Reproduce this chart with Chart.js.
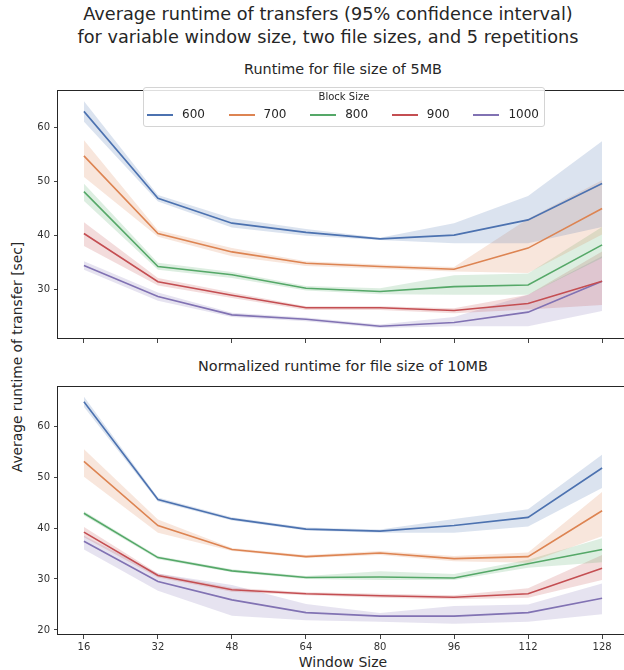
<!DOCTYPE html>
<html>
<head>
<meta charset="utf-8">
<script src="https://cdn.jsdelivr.net/npm/chart.js@4.4.0/dist/chart.umd.min.js"></script>
<style>
  html, body { margin: 0; padding: 0; background: #fff; }
  body { width: 624px; height: 670px; overflow: hidden; position: relative; font-family: "DejaVu Sans", sans-serif; color: #262626; }
  .t { position: absolute; white-space: nowrap; }
  canvas { position: absolute; left: 0; }
  #legend { position: absolute; left: 143px; top: 87px; width: 400px; height: 38px; border: 1px solid #d4d4d4; border-radius: 3px; background: rgba(255,255,255,0.85); }
  #legend .ttl { position: absolute; left: 0; width: 100%; top: 3px; text-align: center; font-size: 10px; }
  .li { position: absolute; top: 19px; height: 14px; }
  .li .sw { position: absolute; left: 0; top: 7px; width: 26px; height: 2px; }
  .li .lb { position: absolute; left: 35px; top: 0; font-size: 12px; line-height: 14px; }
</style>
</head>
<body>
<div class="t" style="left:0;width:656px;top:3px;text-align:center;font-size:17.7px;line-height:23px;">Average runtime of transfers (95% confidence interval)<br>for variable window size, two file sizes, and 5 repetitions</div>
<div class="t" style="left:58px;width:570px;top:61px;text-align:center;font-size:14.4px;line-height:17px;">Runtime for file size of 5MB</div>
<div class="t" style="left:58px;width:570px;top:358px;text-align:center;font-size:14.4px;line-height:17px;">Normalized runtime for file size of 10MB</div>
<div class="t" style="left:17px;top:357px;font-size:13.8px;line-height:16px;transform:translate(-50%,-50%) rotate(-90deg);">Average runtime of transfer [sec]</div>
<div class="t" style="left:58px;width:570px;top:654px;text-align:center;font-size:14px;line-height:16px;">Window Size</div>

<canvas id="c1" width="640" height="270" style="top:80px"></canvas>
<canvas id="c2" width="640" height="294" style="top:376px"></canvas>
<div id="legend"><div class="ttl">Block Size</div></div>

<script>
// ---- data ----
const windowSizes = [16, 32, 48, 64, 80, 96, 112, 128];
const blockSizes = [600, 700, 800, 900, 1000];
const colors = ['#4C72B0', '#DD8452', '#55A868', '#C44E52', '#8172B3'];

// 5MB: mean, lower and upper 95% CI per block size
const mean5MB = [
  [62.9, 46.9, 42.3, 40.6, 39.4, 40.1, 42.9, 49.6],
  [54.7, 40.4, 37.0, 34.9, 34.3, 33.8, 37.7, 45.0],
  [48.1, 34.3, 32.8, 30.3, 29.7, 30.6, 30.9, 38.3],
  [40.4, 31.5, 29.0, 26.7, 26.7, 26.2, 27.5, 31.6],
  [34.5, 28.8, 25.4, 24.6, 23.3, 24.0, 25.9, 31.6]
];
const lo5MB = [
  [61.0, 46.3, 41.5, 40.0, 39.2, 38.6, 38.6, 41.6],
  [50.8, 39.8, 36.2, 34.4, 33.9, 33.4, 33.1, 40.2],
  [46.4, 33.7, 32.2, 29.9, 29.2, 29.1, 29.1, 35.9],
  [38.1, 30.8, 28.5, 26.3, 26.3, 25.7, 26.4, 27.2],
  [33.7, 28.0, 25.0, 24.2, 23.0, 23.3, 23.3, 26.1]
];
const hi5MB = [
  [64.8, 47.5, 43.2, 41.2, 39.6, 42.3, 47.3, 57.4],
  [57.6, 41.0, 37.7, 35.3, 34.7, 34.2, 43.1, 50.2],
  [49.6, 35.0, 33.3, 30.7, 30.3, 32.7, 33.0, 41.6],
  [42.5, 32.2, 29.5, 27.0, 27.0, 26.6, 29.1, 37.1],
  [35.3, 29.5, 25.8, 24.9, 23.6, 25.0, 29.1, 36.2]
];

// 10MB (normalized)
const mean10MB = [
  [64.8, 45.6, 41.8, 39.8, 39.4, 40.5, 42.1, 51.8],
  [53.1, 40.5, 35.8, 34.4, 35.1, 34.0, 34.4, 43.4],
  [42.9, 34.2, 31.6, 30.3, 30.4, 30.2, 33.0, 35.8],
  [39.2, 30.7, 27.9, 27.1, 26.7, 26.4, 27.1, 32.1],
  [37.4, 29.5, 25.9, 23.4, 22.7, 22.7, 23.4, 26.2]
];
const lo10MB = [
  [63.8, 45.2, 41.5, 39.5, 39.1, 39.1, 40.3, 47.9],
  [50.1, 39.1, 35.5, 34.1, 34.7, 33.5, 33.2, 38.4],
  [42.5, 33.9, 31.3, 30.0, 29.8, 29.8, 32.2, 33.3],
  [38.2, 30.3, 27.5, 26.8, 26.3, 26.0, 26.3, 29.8],
  [35.8, 27.7, 22.8, 21.9, 21.6, 21.2, 21.6, 23.1]
];
const hi10MB = [
  [65.8, 46.0, 42.1, 40.1, 39.7, 41.8, 43.7, 54.4],
  [55.5, 41.7, 36.1, 34.7, 35.5, 34.5, 35.2, 47.1],
  [43.3, 34.5, 31.9, 30.6, 31.5, 31.0, 33.8, 38.0],
  [40.2, 31.1, 28.3, 27.4, 27.1, 26.8, 28.2, 34.7],
  [38.5, 31.1, 28.8, 25.1, 23.3, 24.7, 25.0, 29.1]
];

const yTicks5MB = [30, 40, 50, 60];
const yTicks10MB = [20, 30, 40, 50, 60];

// ---- helpers ----
function rgba(hex, a) {
  const n = parseInt(hex.slice(1), 16);
  return `rgba(${(n >> 16) & 255},${(n >> 8) & 255},${n & 255},${a})`;
}
function pts(arr) { return windowSizes.map((x, i) => ({ x: x, y: arr[i] })); }

function buildDatasets(mean, lo, hi) {
  const ds = [];
  blockSizes.forEach((b, k) => {
    ds.push({ label: b + ' hi', data: pts(hi[k]), borderWidth: 0, borderColor: 'rgba(0,0,0,0)', pointRadius: 0, fill: false, tension: 0 });
    ds.push({ label: b + ' lo', data: pts(lo[k]), borderWidth: 0, borderColor: 'rgba(0,0,0,0)', pointRadius: 0, fill: '-1', backgroundColor: rgba(colors[k], 0.2), tension: 0 });
  });
  blockSizes.forEach((b, k) => {
    ds.push({ label: String(b), data: pts(mean[k]), borderColor: colors[k], borderWidth: 1.6, pointRadius: 0, fill: false, tension: 0 });
  });
  return ds;
}

const framePlugin = {
  id: 'frame',
  afterDatasetsDraw(chart) {
    const a = chart.chartArea, c = chart.ctx;
    c.save();
    c.strokeStyle = '#262626';
    c.lineWidth = 1;
    c.strokeRect(Math.round(a.left) - 0.5, Math.round(a.top) + 0.5, Math.round(a.right - a.left) + 1, Math.round(a.bottom - a.top) - 1);
    c.restore();
  }
};

function makeChart(id, mean, lo, hi, yMin, yMax, yTicks, padTop, xHeight, showXLabels) {
  return new Chart(document.getElementById(id), {
    type: 'line',
    data: { datasets: buildDatasets(mean, lo, hi) },
    options: {
      responsive: false,
      animation: false,
      events: [],
      layout: { padding: { top: padTop, right: 12, left: 0, bottom: 0 } },
      plugins: { legend: { display: false }, tooltip: { enabled: false }, filler: { drawTime: 'beforeDatasetsDraw' } },
      scales: {
        x: {
          type: 'linear', min: 10.4, max: 133.6,
          afterBuildTicks: s => { s.ticks = windowSizes.map(v => ({ value: v })); },
          afterFit: s => { s.height = xHeight; },
          grid: { drawOnChartArea: false, drawTicks: true, tickLength: 4, color: '#444' },
          border: { display: false },
          ticks: { autoSkip: false, maxRotation: 0, padding: 2, color: '#333', font: { family: 'DejaVu Sans', size: 10 },
                   callback: v => showXLabels ? String(v) : '' }
        },
        y: {
          min: yMin, max: yMax,
          afterBuildTicks: s => { s.ticks = yTicks.map(v => ({ value: v })); },
          afterFit: s => { s.width = 58; },
          grid: { drawOnChartArea: false, drawTicks: true, tickLength: 4, color: '#444' },
          border: { display: false },
          ticks: { padding: 4, color: '#333', font: { family: 'DejaVu Sans', size: 10 } }
        }
      }
    },
    plugins: [framePlugin]
  });
}

makeChart('c1', mean5MB, lo5MB, hi5MB, 20.95, 66.84, yTicks5MB, 2, 11, false);
makeChart('c2', mean10MB, lo10MB, hi10MB, 19.0, 67.9, yTicks10MB, 3, 35, true);

// legend
const lg = document.getElementById('legend');
blockSizes.forEach((b, k) => {
  const el = document.createElement('div');
  el.className = 'li';
  el.style.left = (3 + k * 81.6) + 'px';
  el.innerHTML = `<div class="sw" style="background:${colors[k]}"></div><div class="lb">${b}</div>`;
  lg.appendChild(el);
});
</script>
</body>
</html>
